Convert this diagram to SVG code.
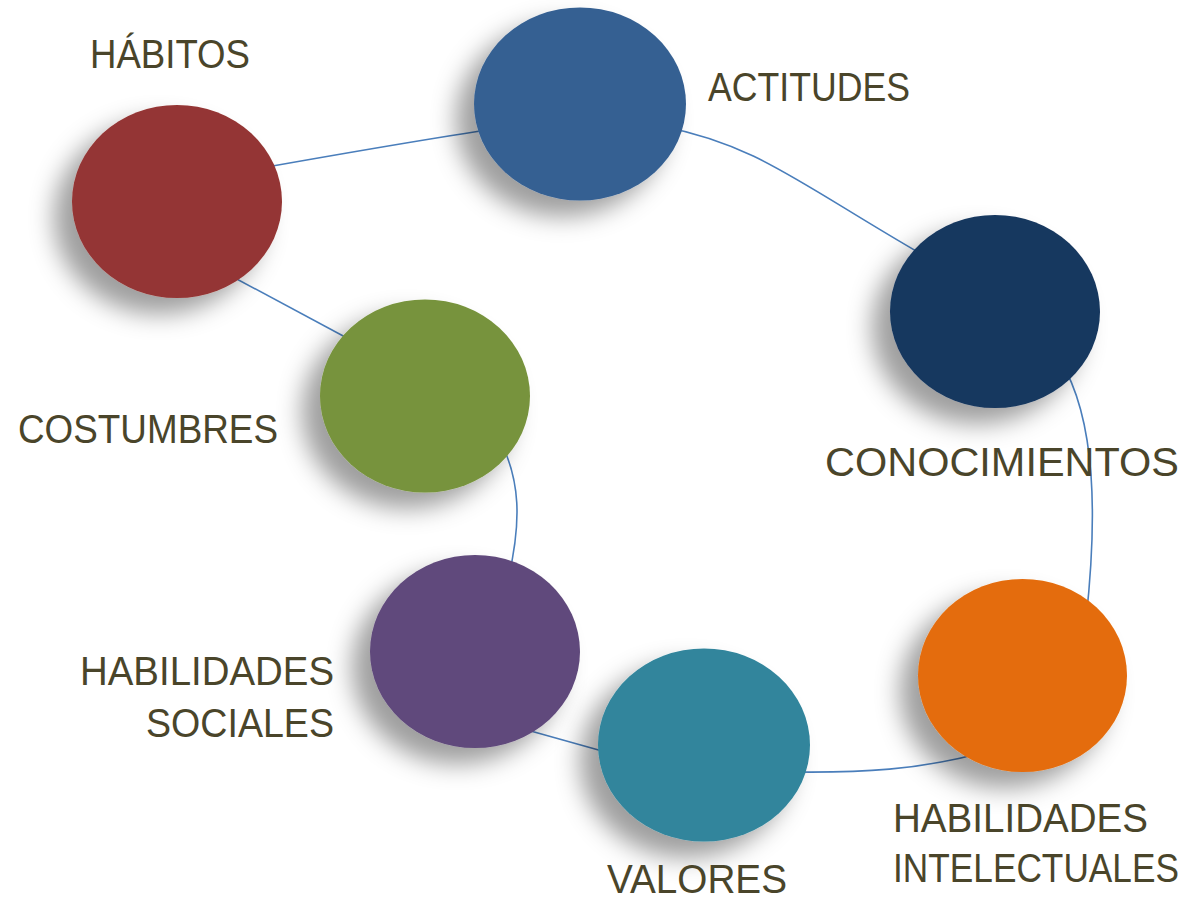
<svg xmlns="http://www.w3.org/2000/svg" width="1196" height="901" viewBox="0 0 1196 901">
<defs>
<filter id="sh" x="-40%" y="-40%" width="180%" height="180%">
<feDropShadow dx="-18" dy="16" stdDeviation="12" flood-color="#000" flood-opacity="0.38"/>
</filter>
<style>
.lbl{font-family:"Liberation Sans","DejaVu Sans",sans-serif;font-size:40px;fill:#4A452A;}
.con{fill:none;stroke:#4A7EBB;stroke-width:1.6;}
.node ellipse{filter:url(#sh);}
</style>
</defs>
<rect width="1196" height="901" fill="#fff"/>
<g id="connectors">
<path class="con" d="M250,170 C340,154 420,140 500,128"/>
<path class="con" d="M660,126 C760,145 800,185 935,262"/>
<path class="con" d="M1060,360 C1097,420 1097,520 1086,620"/>
<path class="con" d="M985,752 C920,770 860,773 790,772"/>
<path class="con" d="M620,756 L520,728"/>
<path class="con" d="M508,580 C522,520 520,480 500,440"/>
<path class="con" d="M360,345 L220,270"/>
</g>
<g id="habitos" class="node">
<ellipse cx="177" cy="201.5" rx="105" ry="96.5" fill="#943634"/>
<text class="lbl" x="90" y="68" textLength="160" lengthAdjust="spacingAndGlyphs">HÁBITOS</text>
</g>
<g id="actitudes" class="node">
<ellipse cx="580" cy="104" rx="106" ry="96.5" fill="#366092"/>
<text class="lbl" x="708" y="101" textLength="202" lengthAdjust="spacingAndGlyphs">ACTITUDES</text>
</g>
<g id="conocimientos" class="node">
<ellipse cx="995" cy="311.5" rx="105" ry="96.5" fill="#17375E"/>
<text class="lbl" x="825" y="476" textLength="354" lengthAdjust="spacingAndGlyphs">CONOCIMIENTOS</text>
</g>
<g id="costumbres" class="node">
<ellipse cx="425" cy="396" rx="105" ry="96.5" fill="#77933C"/>
<text class="lbl" x="18" y="443" textLength="260" lengthAdjust="spacingAndGlyphs">COSTUMBRES</text>
</g>
<g id="habilidades-sociales" class="node">
<ellipse cx="475" cy="651.5" rx="105" ry="96.5" fill="#604A7B"/>
<text class="lbl" x="80" y="685" textLength="254" lengthAdjust="spacingAndGlyphs">HABILIDADES</text>
<text class="lbl" x="146" y="737" textLength="188" lengthAdjust="spacingAndGlyphs">SOCIALES</text>
</g>
<g id="valores" class="node">
<ellipse cx="704" cy="745" rx="106" ry="96.5" fill="#31859C"/>
<text class="lbl" x="607" y="893" textLength="180" lengthAdjust="spacingAndGlyphs">VALORES</text>
</g>
<g id="habilidades-intelectuales" class="node">
<ellipse cx="1022.5" cy="675.5" rx="104.5" ry="96.5" fill="#E46C0A"/>
<text class="lbl" x="893" y="832" textLength="255" lengthAdjust="spacingAndGlyphs">HABILIDADES</text>
<text class="lbl" x="893" y="882" textLength="286" lengthAdjust="spacingAndGlyphs">INTELECTUALES</text>
</g>
</svg>
